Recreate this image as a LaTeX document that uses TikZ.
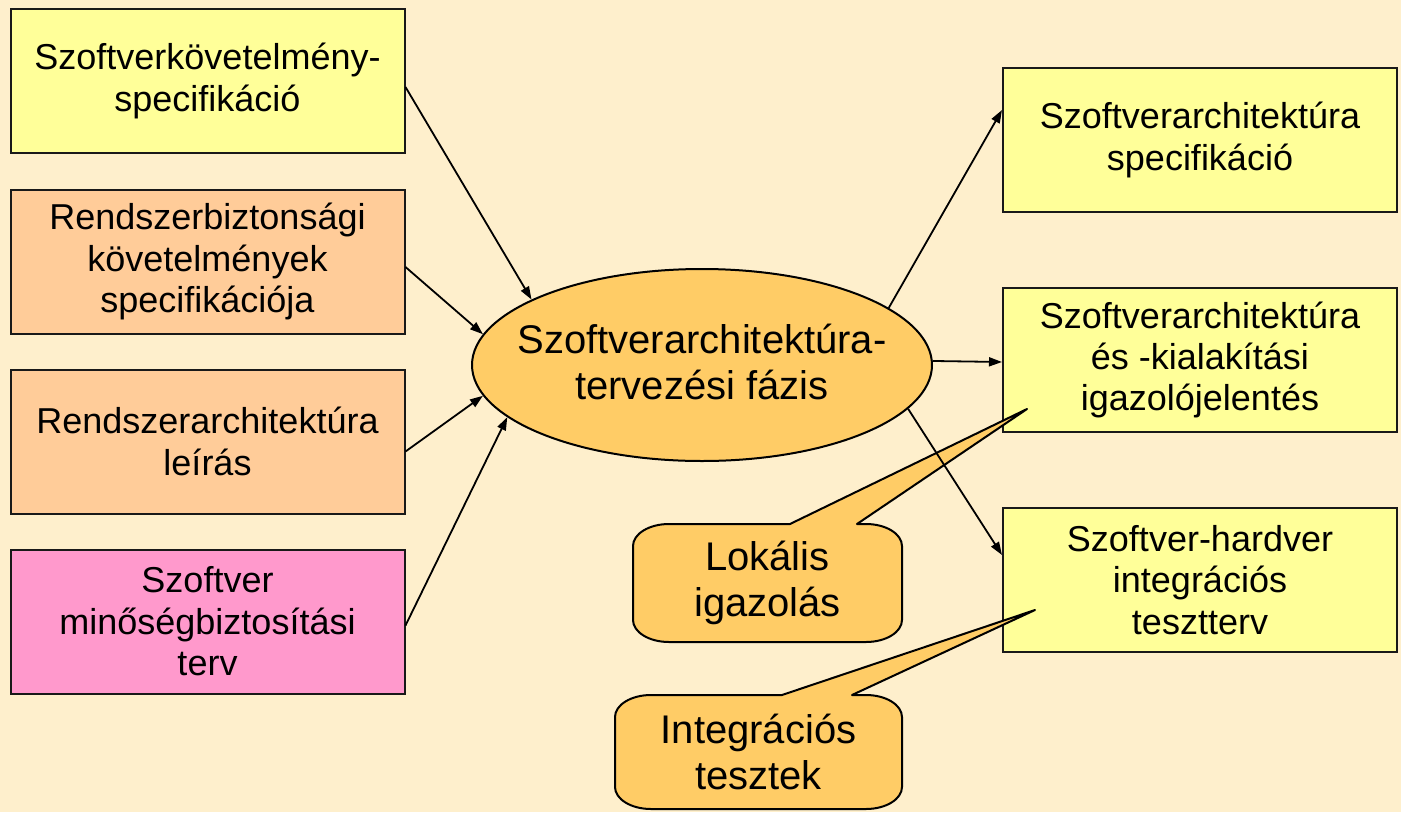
\documentclass[tikz,border=0pt]{standalone}
\usepackage{fontspec}
\setmainfont{Liberation Sans}
\usetikzlibrary{arrows.meta,calc,shapes.geometric}

\definecolor{bg}{RGB}{254,239,204}
\definecolor{reqyellow}{RGB}{255,255,153}
\definecolor{reqorange}{RGB}{255,204,153}
\definecolor{reqpink}{RGB}{255,153,204}
\definecolor{phase}{RGB}{255,204,102}

\begin{document}
\begin{tikzpicture}[x=1pt,y=-1pt,
  docbox/.style={draw=black!90, line width=2pt, minimum width=394pt,
    minimum height=144pt, inner sep=0pt, align=center,
    font=\fontsize{36}{41.4}\selectfont},
  phaseshape/.style={ellipse, draw=black, line width=2pt, fill=phase,
    minimum width=460pt, minimum height=192pt, inner sep=0pt},
  bigtext/.style={inner sep=0pt, align=center,
    font=\fontsize{40}{46}\selectfont},
  calloutshape/.style={draw=black, line width=2pt, fill=phase, line join=round},
  flow/.style={line width=1.8pt, -{Triangle[length=13pt,width=9pt]}}
]
% canvas
\path[use as bounding box, fill=bg] (0,0) rectangle (1401,812);

% input documents
\node[docbox, fill=reqyellow] (in1) at (207.5,81)
  {Szoftverkövetelmény-\\specifikáció};
\node[docbox, fill=reqorange] (in2) at (207.5,261.5)
  {Rendszerbiztonsági\\követelmények\\specifikációja};
\node[docbox, fill=reqorange] (in3) at (207.5,441.5)
  {Rendszerarchitektúra\\leírás};
\node[docbox, fill=reqpink] (in4) at (207.5,621.5)
  {Szoftver\\minőségbiztosítási\\terv};

% output documents
\node[docbox, fill=reqyellow] (out1) at (1200,140)
  {Szoftverarchitektúra\\specifikáció};
\node[docbox, fill=reqyellow] (out2) at (1200,360)
  {Szoftverarchitektúra\\és -kialakítási\\igazolójelentés};
\node[docbox, fill=reqyellow] (out3) at (1200,580)
  {Szoftver-hardver\\integrációs\\tesztterv};

% the phase itself
\node[phaseshape] (phase) at (702,365) {};
\node[bigtext] (phasetext) at (702,362)
  {Szoftverarchitektúra-\\tervezési fázis};

% callout: local verification (rounded body with a pointer)
\path[calloutshape] (790,524) -- (669,524)
  .. controls (649.1,524) and (633,533.85) .. (633,546) -- (633,620)
  .. controls (633,632.15) and (649.1,642) .. (669,642) -- (866,642)
  .. controls (885.9,642) and (902,632.15) .. (902,620) -- (902,546)
  .. controls (902,533.85) and (885.9,524) .. (866,524) -- (857,524)
  -- (1027,409) -- cycle;
\node[bigtext] (note1) at (767.5,583) {Lokális\\igazolás};

% callout: integration tests
\path[calloutshape] (782,695) -- (651,695)
  .. controls (631.1,695) and (615,704.85) .. (615,717) -- (615,787)
  .. controls (615,799.15) and (631.1,809) .. (651,809) -- (866,809)
  .. controls (885.9,809) and (902,799.15) .. (902,787) -- (902,717)
  .. controls (902,704.85) and (885.9,695) .. (866,695) -- (852,695)
  -- (1035,610) -- cycle;
\node[bigtext] (note2) at (758.5,752) {Integrációs\\tesztek};

% inputs into the phase
\draw[flow] ($(in1.east)+(0,6)$) -- (phase.159);
\draw[flow] ($(in2.east)+(0,5.5)$) -- (phase.172);
\draw[flow] ($(in3.east)+(0,10)$) -- (phase.188);
\draw[flow] ($(in4.east)+(0,4)$) -- (phase.195);

% outputs of the phase
\draw[flow] (phase.17) -- ($(out1.west)+(0,-30)$);
\draw[flow] (phase.1) -- ($(out2.west)+(0,2)$);
\draw[flow] (phase.-12) -- ($(out3.west)+(0,-25)$);
\end{tikzpicture}
\end{document}
